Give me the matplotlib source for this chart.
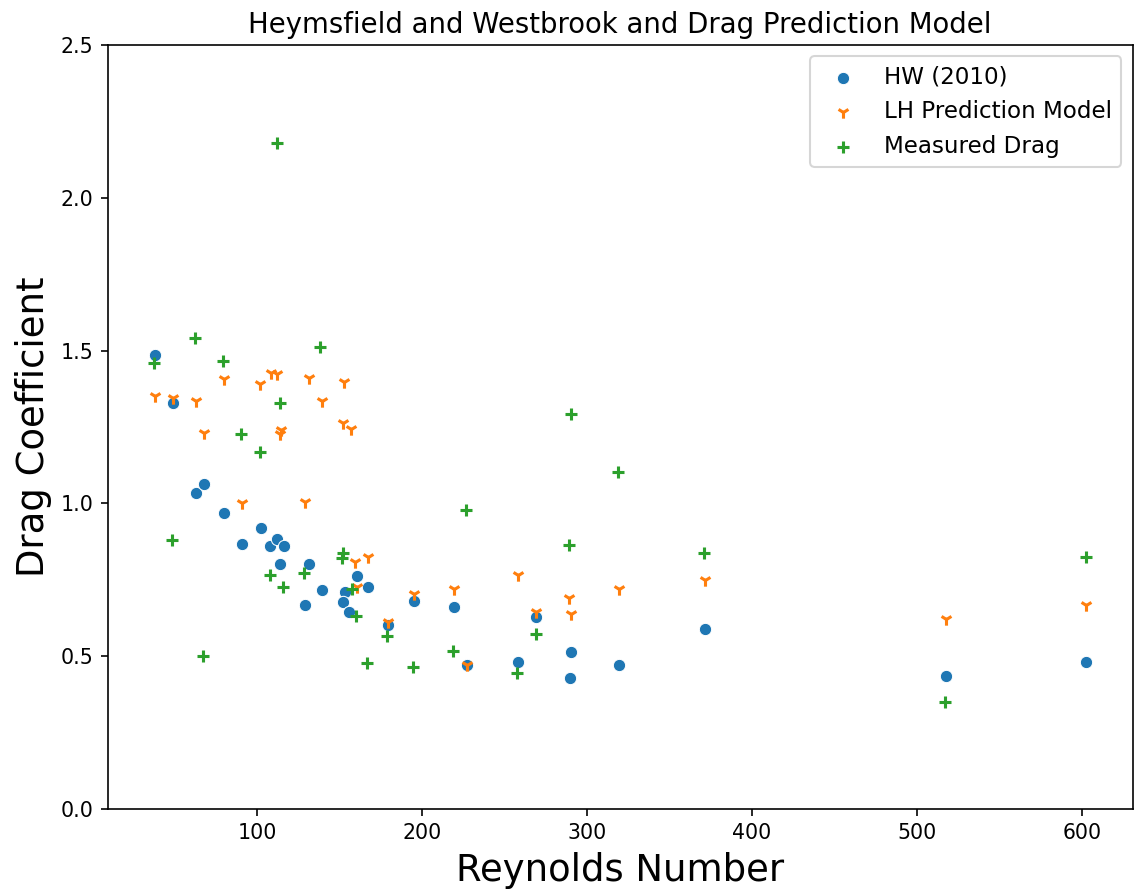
import numpy as np
import matplotlib
matplotlib.use('Agg')
from matplotlib import pyplot as plt

# HW (2010)
hw_re = [37.9, 48.9, 62.7, 67.7, 79.8, 90.9, 102.1, 107.9, 111.9, 116.0, 113.9,
         131.1, 129.1, 139.0, 153.1, 152.3, 155.7, 160.2, 167.2, 179.0, 195.1,
         219.1, 227.2, 258.3, 269.2, 289.4, 290.4, 319.3, 371.6, 517.6, 602.7]
hw_cd = [1.486, 1.328, 1.035, 1.063, 0.970, 0.867, 0.920, 0.861, 0.883, 0.861, 0.802,
         0.802, 0.667, 0.716, 0.709, 0.677, 0.644, 0.763, 0.725, 0.602, 0.682,
         0.661, 0.471, 0.482, 0.629, 0.428, 0.515, 0.471, 0.590, 0.434, 0.482]

# LH prediction model
lh_re = [37.9, 48.9, 62.9, 67.7, 79.8, 90.7, 101.8, 108.1, 112.1, 113.6, 114.5,
         128.7, 131.1, 139.2, 151.9, 152.9, 156.6, 159.2, 160.2, 167.2, 179.0,
         195.1, 219.1, 227.2, 258.3, 269.2, 289.2, 290.2, 319.3, 371.6, 517.6, 602.7]
lh_cd = [1.351, 1.344, 1.335, 1.231, 1.406, 1.002, 1.391, 1.426, 1.422, 1.227, 1.240,
         1.006, 1.411, 1.335, 1.262, 1.396, 1.242, 0.807, 0.725, 0.826, 0.613,
         0.704, 0.719, 0.471, 0.766, 0.646, 0.691, 0.638, 0.719, 0.749, 0.621, 0.668]

# measured drag
md_re = [37.5, 48.3, 62.4, 67.3, 79.4, 90.3, 101.5, 107.5, 111.9, 113.6, 115.6,
         128.5, 138.2, 151.5, 152.1, 157.2, 159.6, 166.6, 178.7, 194.7, 218.7,
         226.8, 257.7, 268.8, 288.8, 290.0, 318.9, 371.2, 517.1, 602.4]
md_cd = [1.458, 0.880, 1.540, 0.502, 1.465, 1.227, 1.167, 0.766, 2.179, 1.330, 0.727,
         0.773, 1.513, 0.820, 0.839, 0.719, 0.632, 0.478, 0.566, 0.464, 0.518,
         0.978, 0.444, 0.572, 0.864, 1.292, 1.102, 0.837, 0.349, 0.826]

fig = plt.figure(figsize=(1138/148, 892/148), dpi=148)
ax = fig.add_axes([0.0945, 0.093, 0.901, 0.8566])

ax.scatter(hw_re, hw_cd, s=36, marker='o', color='tab:blue', edgecolor='white', linewidth=0.5, label='HW (2010)')
ax.scatter(lh_re, lh_cd, s=36, marker='1', color='tab:orange', linewidth=1.5, label='LH Prediction Model')
ax.scatter(md_re, md_cd, s=36, marker='+', color='tab:green', linewidth=1.5, label='Measured Drag')

ax.set_ylim(0, 2.5)
ax.set_title('Heymsfield and Westbrook and Drag Prediction Model', fontsize=13.4)
ax.set_xlabel('Reynolds Number', fontsize=18)
ax.set_ylabel('Drag Coefficient', fontsize=18)
ax.legend(loc='upper right', fontsize=11.2)

plt.savefig('out.png', dpi=148)
